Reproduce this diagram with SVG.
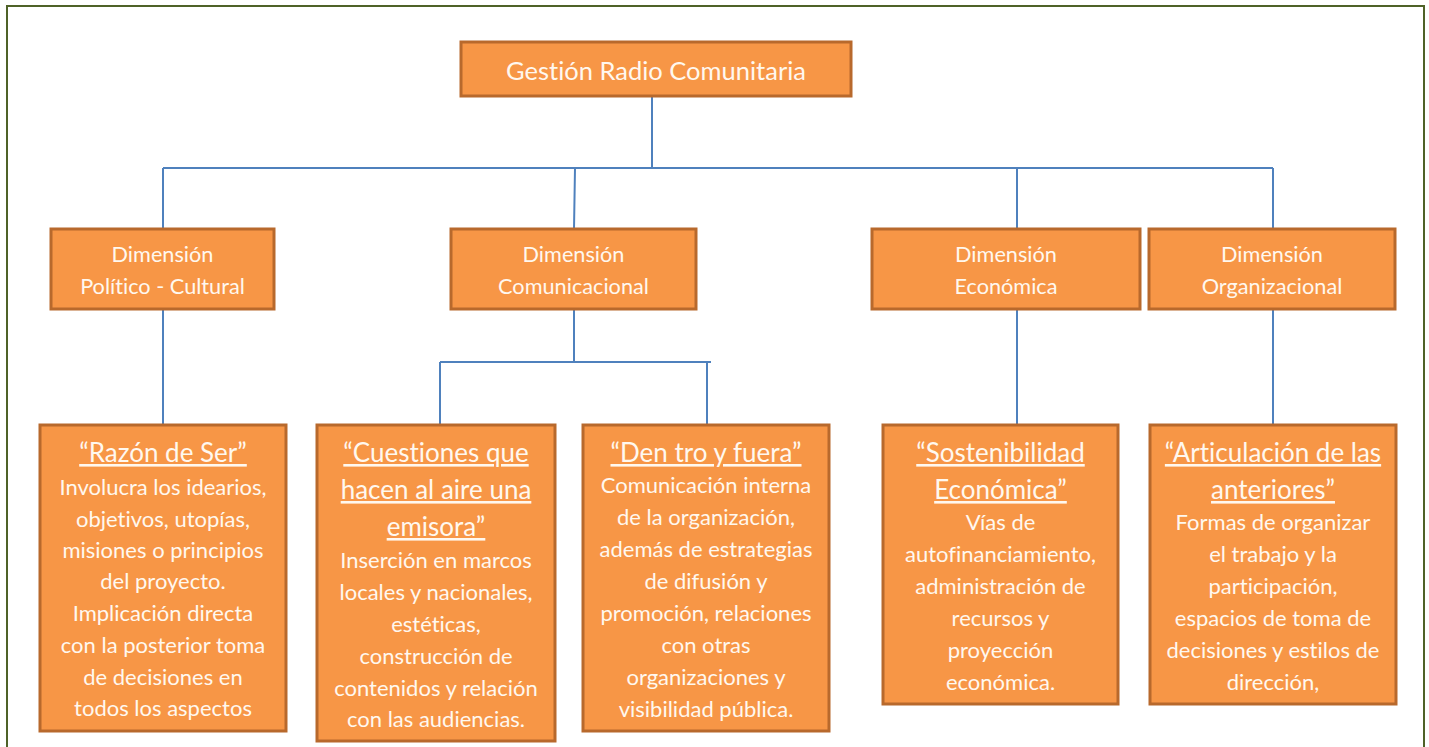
<svg xmlns="http://www.w3.org/2000/svg" width="1429" height="747" viewBox="0 0 1429 747">
<style>
.box{fill:#F79646;stroke:#B8692C;stroke-width:3}
.t{font-family:Lato,"Liberation Sans",sans-serif;fill:#FFF8EF;text-anchor:middle;font-variant-ligatures:none;font-feature-settings:"liga" 0}
.h{font-size:25.5px}
.d{font-size:21.7px}
.ti{font-size:26px;text-decoration:underline}
.b{font-size:22px}
.c{fill:none;stroke:#4F81BD;stroke-width:2}
</style>
<rect width="1429" height="747" fill="#FFFFFF"/>
<rect x="7" y="6" width="1417" height="780" fill="none" stroke="#4F6228" stroke-width="2"/>
<g id="connectors">
<path class="c" d="M652 97V168M163 168H1273M163 168V229M575 168L574 229M1017 168V229M1273 168V229"/>
<path class="c" d="M163 309V425M574 309V362M440 362H711M440 362V425M707 362V425M1017 309V425M1273 309V425"/>
</g>
<g id="root">
<rect class="box" x="461" y="42" width="390" height="54"/>
<text class="t h" x="656" y="80">Gestión Radio Comunitaria</text>
</g>
<g id="dim-politico">
<rect class="box" x="51" y="229" width="223" height="80"/>
<text class="t d" x="162.5" y="262">Dimensión</text>
<text class="t d" x="162.5" y="294">Político - Cultural</text>
</g>
<g id="dim-comunicacional">
<rect class="box" x="451" y="229" width="245" height="80"/>
<text class="t d" x="573.5" y="262">Dimensión</text>
<text class="t d" x="573.5" y="294">Comunicacional</text>
</g>
<g id="dim-economica">
<rect class="box" x="872" y="229" width="268" height="80"/>
<text class="t d" x="1006" y="262">Dimensión</text>
<text class="t d" x="1006" y="294">Económica</text>
</g>
<g id="dim-organizacional">
<rect class="box" x="1149" y="229" width="246" height="80"/>
<text class="t d" x="1272" y="262">Dimensión</text>
<text class="t d" x="1272" y="294">Organizacional</text>
</g>
<g id="razon-de-ser">
<rect class="box" x="40" y="425" width="246" height="306"/>
<text class="t ti" x="163" y="462">“Razón de Ser”</text>
<text class="t b" x="163" y="495">Involucra los idearios,</text>
<text class="t b" x="163" y="527">objetivos, utopías,</text>
<text class="t b" x="163" y="558">misiones o principios</text>
<text class="t b" x="163" y="589">del proyecto.</text>
<text class="t b" x="163" y="621">Implicación directa</text>
<text class="t b" x="163" y="653">con la posterior toma</text>
<text class="t b" x="163" y="685">de decisiones en</text>
<text class="t b" x="163" y="716">todos los aspectos</text>
</g>
<g id="cuestiones">
<rect class="box" x="317" y="425" width="238" height="316"/>
<text class="t ti" x="436" y="462">“Cuestiones que</text>
<text class="t ti" x="436" y="499">hacen al aire una</text>
<text class="t ti" x="436" y="536">emisora”</text>
<text class="t b" x="436" y="568">Inserción en marcos</text>
<text class="t b" x="436" y="600">locales y nacionales,</text>
<text class="t b" x="436" y="632">estéticas,</text>
<text class="t b" x="436" y="664">construcción de</text>
<text class="t b" x="436" y="696">contenidos y relación</text>
<text class="t b" x="436" y="727">con las audiencias.</text>
</g>
<g id="dentro-fuera">
<rect class="box" x="583" y="425" width="246" height="306"/>
<text class="t ti" x="706" y="462">“Den tro y fuera”</text>
<text class="t b" x="706" y="493">Comunicación interna</text>
<text class="t b" x="706" y="525">de la organización,</text>
<text class="t b" x="706" y="557">además de estrategias</text>
<text class="t b" x="706" y="589">de difusión y</text>
<text class="t b" x="706" y="621">promoción, relaciones</text>
<text class="t b" x="706" y="653">con otras</text>
<text class="t b" x="706" y="685">organizaciones y</text>
<text class="t b" x="706" y="717">visibilidad pública.</text>
</g>
<g id="sostenibilidad">
<rect class="box" x="883" y="425" width="235" height="279"/>
<text class="t ti" x="1000.5" y="462">“Sostenibilidad</text>
<text class="t ti" x="1000.5" y="499">Económica”</text>
<text class="t b" x="1000.5" y="530">Vías de</text>
<text class="t b" x="1000.5" y="562">autofinanciamiento,</text>
<text class="t b" x="1000.5" y="594">administración de</text>
<text class="t b" x="1000.5" y="626">recursos y</text>
<text class="t b" x="1000.5" y="658">proyección</text>
<text class="t b" x="1000.5" y="690">económica.</text>
</g>
<g id="articulacion">
<rect class="box" x="1150" y="425" width="246" height="279"/>
<text class="t ti" x="1273" y="462">“Articulación de las</text>
<text class="t ti" x="1273" y="499">anteriores”</text>
<text class="t b" x="1273" y="530">Formas de organizar</text>
<text class="t b" x="1273" y="562">el trabajo y la</text>
<text class="t b" x="1273" y="594">participación,</text>
<text class="t b" x="1273" y="626">espacios de toma de</text>
<text class="t b" x="1273" y="658">decisiones y estilos de</text>
<text class="t b" x="1273" y="690">dirección,</text>
</g>
</svg>
